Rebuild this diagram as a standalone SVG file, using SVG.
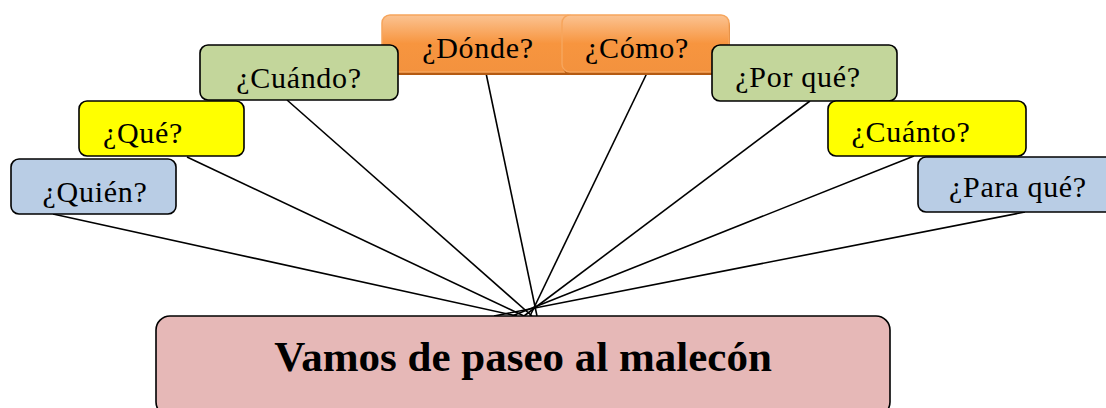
<svg xmlns="http://www.w3.org/2000/svg" width="1106" height="408" viewBox="0 0 1106 408">
<style>
.b{stroke:#000;stroke-width:1.6}
.blue{fill:#b9cde5}
.yel{fill:#ffff00}
.grn{fill:#c3d69b}
.t{font-family:"Liberation Serif","Times New Roman",serif;font-size:30px;letter-spacing:0.7px;fill:#000;text-anchor:middle}
.o{fill:url(#og);stroke:#f6a55c;stroke-width:1.5}
.sh{fill:#b45a12}
.c line{stroke:#000;stroke-width:1.6}
</style>
<defs>
<linearGradient id="og" x1="0" y1="0" x2="0" y2="1">
<stop offset="0" stop-color="#fbc392"/>
<stop offset="0.5" stop-color="#f7953f"/>
<stop offset="1" stop-color="#f3923e"/>
</linearGradient>
</defs>
<g class="c">
<line x1="53" y1="214" x2="517" y2="316"/>
<line x1="187" y1="157" x2="524" y2="316"/>
<line x1="287" y1="100" x2="532" y2="316"/>
<line x1="486" y1="73" x2="537" y2="316"/>
<line x1="647" y1="73" x2="530" y2="316"/>
<line x1="810" y1="101" x2="524" y2="316"/>
<line x1="914" y1="156" x2="512" y2="316"/>
<line x1="1025" y1="212" x2="494" y2="316"/>
</g>
<g id="donde">
<rect class="sh" x="383" y="18" width="194" height="57" rx="8"/>
<rect class="o" x="382" y="15" width="194" height="57" rx="8"/>
<text class="t" x="478" y="58">¿Dónde?</text>
</g>
<g id="como">
<rect class="sh" x="563" y="18" width="167" height="57" rx="8"/>
<rect class="o" x="562" y="15" width="167" height="57" rx="8"/>
<text class="t" x="637" y="58">¿Cómo?</text>
</g>
<g id="quien">
<rect class="b blue" x="11" y="159" width="165" height="55" rx="8"/>
<text class="t" x="95" y="202">¿Quién?</text>
</g>
<g id="que">
<rect class="b yel" x="79" y="101" width="165" height="55" rx="8"/>
<text class="t" x="143" y="143">¿Qué?</text>
</g>
<g id="cuando">
<rect class="b grn" x="200" y="45" width="198" height="55" rx="8"/>
<text class="t" x="299" y="88">¿Cuándo?</text>
</g>
<g id="porque">
<rect class="b grn" x="712" y="45" width="185" height="56" rx="8"/>
<text class="t" x="798" y="87">¿Por qué?</text>
</g>
<g id="cuanto">
<rect class="b yel" x="828" y="101" width="198" height="55" rx="8"/>
<text class="t" x="911" y="142">¿Cuánto?</text>
</g>
<g id="paraque">
<rect class="b blue" x="918" y="157" width="200" height="55" rx="8"/>
<text class="t" x="1018" y="197">¿Para qué?</text>
</g>
<g id="main">
<rect class="b" fill="#e6b8b7" x="156" y="316" width="734" height="100" rx="14"/>
<text x="523" y="371" font-family="'Liberation Serif','Times New Roman',serif" font-size="43" font-weight="bold" text-anchor="middle">Vamos de paseo al malecón</text>
</g>
</svg>
